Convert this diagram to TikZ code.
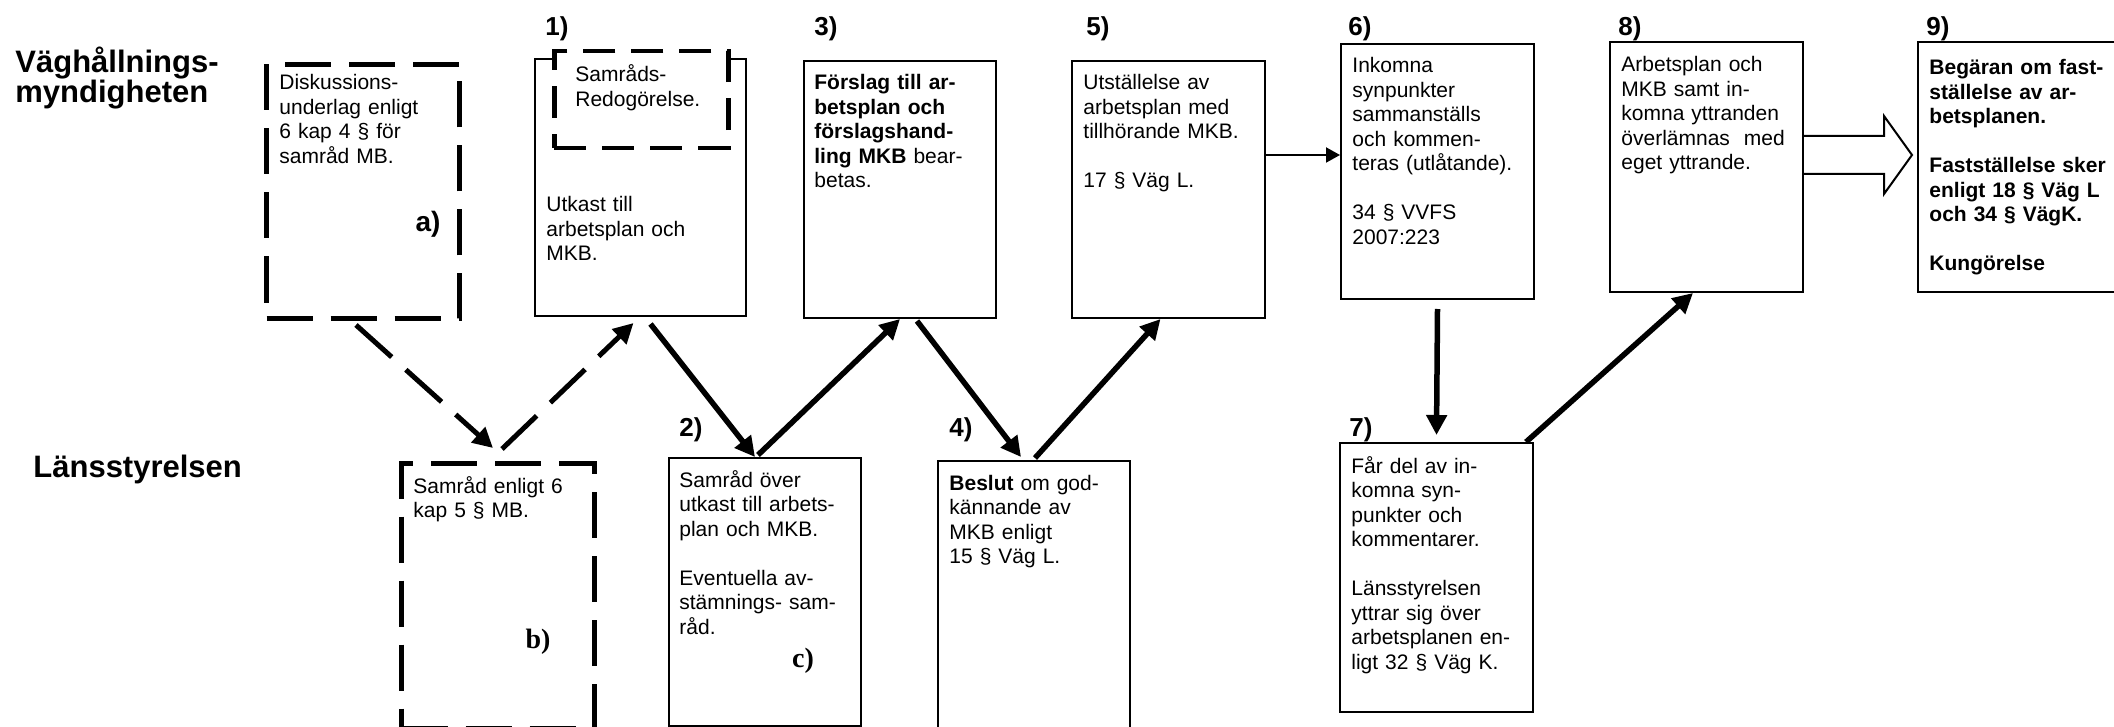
\documentclass[tikz,border=0pt]{standalone}
\usepackage{fontspec}
\setmainfont{Liberation Sans}
\newfontfamily\tagserif{Liberation Serif}
\usepackage{tikz}
\usetikzlibrary{positioning, arrows.meta, calc}
\newcommand{\Blank}{\\[\baselineskip]}
\tikzset{
    stepbox/.style={draw, rectangle, line width=1pt, inner sep=0pt, anchor=north west},
    dashbox/.style={stepbox, line width=2.5pt, dash pattern=on 23pt off 9pt},
    steptext/.style={anchor=base west, inner sep=0pt, text width=92pt, align=left,
                     font=\fontsize{10.5}{12.25}\selectfont},
    num/.style={anchor=base west, inner sep=0pt, font=\fontsize{13}{13}\selectfont\bfseries},
    role/.style={anchor=base west, inner sep=0pt, text width=130pt, align=left,
                 font=\fontsize{15.5}{15}\selectfont\bfseries},
}

\begin{document}
\begin{tikzpicture}[x=0.5pt, y=-0.5pt]
    \tikzset{
      flow/.style={line width=2.75pt, -{Triangle[length=10pt, width=10pt]}},
      dashflow/.style={flow, line width=2.5pt, dash pattern=on 24pt off 9.5pt},
      thinflow/.style={line width=1pt, -{Triangle[length=7pt, width=7.5pt]}},
      tag/.style={inner sep=0pt, font=\fontsize{14}{14}\selectfont\bfseries},
    }
    \useasboundingbox (0,0) rectangle (2114,727);
    \clip (0,0) rectangle (2114,727);

    \node[role] (vhm) at (15,73) {Väghållnings-\\myndigheten};
    \node[role] (lst) at (33,477) {Länsstyrelsen};

    % upper row
    \node[dashbox, minimum width=96.5pt, minimum height=127pt] (ba) at (264,62) {};
    \node[steptext] (ta) at ([shift={(15,28)}]ba.north west)
        {Diskussions-\\underlag enligt\\6 kap 4 § för\\samråd MB.};
    \node[tag] (taga) at (428,224) {a)};

    \node[stepbox, minimum width=105.5pt, minimum height=128.5pt] (b1) at (534,58) {};
    \node[dashbox, fill=white, line width=2.25pt, dash pattern=on 16pt off 8pt,
          minimum width=87pt, minimum height=48.5pt] (b1r) at (552,49) {};
    \node[steptext] (t1r) at ([shift={(23,33)}]b1r.north west) {Samråds-\\Redogörelse.};
    \node[steptext] (t1) at ([shift={(12,154)}]b1.north west) {Utkast till\\arbetsplan och\\MKB.};

    \node[stepbox, minimum width=96pt, minimum height=128.5pt] (b3) at (803,60) {};
    \node[steptext] (t3) at ([shift={(11,30)}]b3.north west)
        {\textbf{Förslag till ar-}\\\textbf{betsplan och}\\\textbf{förslagshand-}\\\textbf{ling MKB} bear-\\betas.};

    \node[stepbox, minimum width=96.5pt, minimum height=128.5pt] (b5) at (1071,60) {};
    \node[steptext] (t5) at ([shift={(12,30)}]b5.north west)
        {Utställelse av\\arbetsplan med\\tillhörande MKB.\Blank 17 § Väg L.};

    \node[stepbox, minimum width=96.5pt, minimum height=127.5pt] (b6) at (1340,43) {};
    \node[steptext] (t6) at ([shift={(12,30)}]b6.north west)
        {Inkomna\\synpunkter\\sammanställs\\och kommen-\\teras (utlåtande).\Blank 34 § VVFS\\2007:223};

    \node[stepbox, minimum width=96.5pt, minimum height=125pt] (b8) at (1609,41) {};
    \node[steptext] (t8) at ([shift={(12,31)}]b8.north west)
        {Arbetsplan och\\MKB samt in-\\komna yttranden\\överlämnas\ \ med\\eget yttrande.};

    \node[stepbox, minimum width=106.5pt, minimum height=125pt] (b9) at (1917,41) {};
    \node[steptext, font=\fontsize{10.5}{12.25}\selectfont\bfseries] (t9) at ([shift={(12,34)}]b9.north west)
        {Begäran om fast-\\ställelse av ar-\\betsplanen.\Blank Fastställelse sker\\enligt 18 § Väg L\\och 34 § VägK.\Blank Kungörelse};

    % lower row
    \node[dashbox, minimum width=96.5pt, minimum height=132.5pt] (bb) at (399,461) {};
    \node[steptext] (tb) at ([shift={(14,32)}]bb.north west) {Samråd enligt 6\\kap 5 § MB.};
    \node[tag, font=\fontsize{14}{14}\selectfont\tagserif\bfseries] (tagb) at (538,642) {b)};

    \node[stepbox, minimum width=96pt, minimum height=134pt] (b2) at (668,457) {};
    \node[steptext] (t2) at ([shift={(11,30)}]b2.north west)
        {Samråd över\\utkast till arbets-\\plan och MKB.\Blank Eventuella av-\\stämnings- sam-\\råd.};
    \node[tag, font=\fontsize{14}{14}\selectfont\tagserif\bfseries] (tagc) at (803,661) {c)};

    \node[stepbox, minimum width=96pt, minimum height=134pt] (b4) at (937,460) {};
    \node[steptext] (t4) at ([shift={(12,30)}]b4.north west)
        {\textbf{Beslut} om god-\\kännande av\\MKB enligt\\15 § Väg L.};

    \node[stepbox, minimum width=96.5pt, minimum height=134.5pt] (b7) at (1339,442) {};
    \node[steptext] (t7) at ([shift={(12,31)}]b7.north west)
        {Får del av in-\\komna syn-\\punkter och\\kommentarer.\Blank Länsstyrelsen\\yttrar sig över\\arbetsplanen en-\\ligt 32 § Väg K.};

    % step numbers
    \node[num] (n1) at (545,36) {1)};
    \node[num] (n3) at (814,36) {3)};
    \node[num] (n5) at (1086,36) {5)};
    \node[num] (n6) at (1348,36) {6)};
    \node[num] (n8) at (1618,36) {8)};
    \node[num] (n9) at (1926,36) {9)};
    \node[num] (n2) at (679,436) {2)};
    \node[num] (n4) at (949,436) {4)};
    \node[num] (n7) at (1349,436) {7)};

    \draw[dashflow] ([shift={(-7,4)}]ba.south) -- ([shift={(-5,-13)}]bb.north);
    \draw[dashflow] ([shift={(4,-12)}]bb.north) -- ([shift={(-7,6)}]b1.south);
    \draw[flow] ([shift={(10,7)}]b1.south) -- ([shift={(-10,0)}]b2.north);
    \draw[flow] ([shift={(-7,-2)}]b2.north) -- (b3.south);
    \draw[flow] ([shift={(17,2)}]b3.south) -- ([shift={(-13,-3)}]b4.north);
    \draw[flow] ([shift={(1,-2)}]b4.north) -- ([shift={(-8,0)}]b5.south);
    \coordinate (c56) at ([yshift=17.25pt]b5.east);
    \draw[thinflow] (c56) -- (c56 -| b6.west);
    \draw[flow] ([yshift=-4.5pt]b6.south) -- ([yshift=3.5pt]b7.north);
    \draw[flow] ([xshift=-4pt]b7.north east) -- ([xshift=-6.75pt]b8.south);
    \draw[line width=1pt] ([yshift=15.5pt]b8.east) -- ++(80,0) -- ++(0,-20) -- ++(28,39)
        -- ++(-28,39) -- ++(0,-20) -- ++(-80,0);
\end{tikzpicture}
\end{document}
